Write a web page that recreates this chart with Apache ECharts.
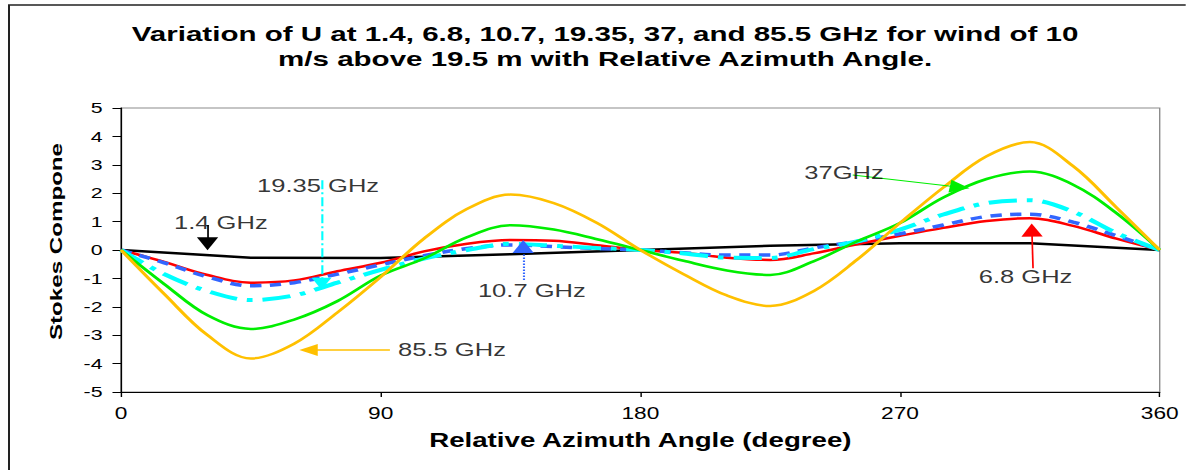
<!DOCTYPE html>
<html>
<head>
<meta charset="utf-8">
<script src="https://cdn.jsdelivr.net/npm/echarts@6/dist/echarts.min.js"></script>
<style>
  html, body { margin: 0; padding: 0; background: #fff; overflow: hidden; }
  #wrap { width: 1186px; height: 470px; overflow: hidden; position: relative; background: #fff; }
  #chart { position: absolute; left: 0; top: 0; height: 470px; transform-origin: 0 0; }
</style>
</head>
<body>
<div id="wrap"><div id="chart"></div></div>
<script>
// ---- data -------------------------------------------------------------
// relative azimuth angle (degree)
const angles = [0, 15, 30, 45, 60, 75, 90, 105, 120, 135, 150, 165, 180,
                195, 210, 225, 240, 255, 270, 285, 300, 315, 330, 345, 360];
const anglesCoarse = [0, 45, 90, 135, 180, 225, 270, 315, 360];

// Stokes component U for wind of 10 m/s above 19.5 m
const u1_4   = [0, -0.27, -0.28, -0.15, 0, 0.15, 0.24, 0.24, 0];
const u6_8   = [0, -0.42, -0.88, -1.15, -1.07, -0.75, -0.45, -0.05, 0.22, 0.35, 0.33, 0.17, 0,
                -0.1, -0.27, -0.35, -0.12, 0.2, 0.5, 0.78, 1.02, 1.12, 0.85, 0.4, 0];
const u10_7  = [0, -0.45, -0.95, -1.26, -1.15, -0.85, -0.52, -0.2, 0.05, 0.18, 0.12, 0.05, 0,
                -0.1, -0.18, -0.18, 0.07, 0.3, 0.57, 0.88, 1.18, 1.26, 0.98, 0.5, 0];
const u19_35 = [0, -0.85, -1.45, -1.76, -1.6, -1.15, -0.7, -0.3, 0.0, 0.22, 0.15, 0.07, 0,
                -0.12, -0.27, -0.28, 0.03, 0.3, 0.72, 1.25, 1.65, 1.75, 1.35, 0.6, 0];
const u37    = [0, -1.2, -2.3, -2.78, -2.45, -1.8, -0.9, -0.3, 0.45, 0.87, 0.72, 0.38, 0,
                -0.38, -0.72, -0.88, -0.4, 0.3, 0.95, 1.85, 2.5, 2.76, 2.3, 1.3, 0];
const u85_5  = [0, -1.55, -3.0, -3.82, -3.3, -2.2, -0.95, 0.4, 1.45, 1.95, 1.65, 0.95, 0,
                -0.85, -1.6, -1.97, -1.45, -0.35, 0.95, 2.2, 3.3, 3.8, 2.95, 1.5, 0];

const seriesNames = ['1.4 GHz', '6.8 GHz', '10.7 GHz', '19.35 GHz', '37GHz', '85.5 GHz'];
const xTicks = [0, 90, 180, 270, 360];
const yTicks = [-5, -4, -3, -2, -1, 0, 1, 2, 3, 4, 5];

const titleText = 'Variation of U at 1.4, 6.8, 10.7, 19.35, 37, and 85.5 GHz for wind of 10\nm/s above 19.5 m with Relative Azimuth Angle.';
const xName = 'Relative Azimuth Angle (degree)';
const yName = 'Stokes Compone';

// ---- layout / styles ---------------------------------------------------
// text in this chart is drawn wide; the whole chart is rendered narrow and stretched
const STRETCH = 1.42;
const PAGE_W = 1186;
const CHART_W = PAGE_W / STRETCH;
const sx = px => px / STRETCH;
const FONT = '"Liberation Sans", Arial, sans-serif';

const chartEl = document.getElementById('chart');
chartEl.style.width = CHART_W + 'px';
chartEl.style.transform = 'scaleX(' + STRETCH + ')';

const styles = [
  { color: '#000000', width: 2.5, type: 'solid', smooth: false },
  { color: '#FF0000', width: 2.5, type: 'solid', smooth: 0.35 },
  { color: '#3366FF', width: 3.5, type: [8, 6], smooth: 0.35 },
  { color: '#00FFFF', width: 4, type: [20, 7, 4, 7], smooth: 0.35 },
  { color: '#00EE00', width: 2.5, type: 'solid', smooth: 0.35 },
  { color: '#FFC000', width: 2.5, type: 'solid', smooth: 0.35 }
];
const seriesValues = [u1_4, u6_8, u10_7, u19_35, u37, u85_5];
const seriesX = [anglesCoarse, angles, angles, angles, angles, angles];

// annotation callouts, in axis units: label centre, arrow start, arrow head centre
const callouts = [
  { label: [34.6, 0.97],   from: [30.0, 0.88],   to: [30.0, 0.22],   line: 'solid',        lw: 1.2, head: [15, 13] },
  { label: [313.5, -0.94], from: [316.1, -0.64], to: [315.7, 0.70],  line: 'solid',        lw: 1.2, head: [15, 13] },
  { label: [142.4, -1.44], from: [139.4, -1.06], to: [139.4, 0.12],  line: 'dotted',       lw: 1.5, head: [15, 13] },
  { label: [68.3, 2.27],   from: [69.5, 2.46],   to: [69.5, -1.19],  line: [9, 3, 2, 3],   lw: 1.5, head: [14, 12] },
  { label: [250.6, 2.70],  from: [253.6, 2.64],  to: [290.7, 2.21],  line: 'solid',        lw: 1,   head: [13, 14] },
  { label: [114.7, -3.52], from: [93.2, -3.52],  to: [65.0, -3.52],  line: 'solid',        lw: 1.5, head: [12, 13] }
];

const series = seriesValues.map((vals, i) => {
  const st = styles[i];
  const c = callouts[i];
  return {
    name: seriesNames[i],
    type: 'line',
    data: vals.map((v, k) => [seriesX[i][k], v]),
    showSymbol: false,
    symbol: 'none',
    smooth: st.smooth,
    lineStyle: { color: st.color, width: st.width, type: st.type, cap: 'butt' },
    itemStyle: { color: st.color },
    z: 2 + i,
    silent: true,
    markLine: {
      silent: true,
      z: 20,
      animation: false,
      label: { show: false },
      emphasis: { disabled: true },
      lineStyle: { color: st.color, width: c.lw, type: c.line },
      data: [[
        { coord: c.from, symbol: 'none', symbolSize: 0 },
        { coord: c.to, symbol: 'triangle', symbolSize: c.head }
      ]]
    }
  };
});

series.push({
  name: 'labels',
  type: 'scatter',
  silent: true,
  z: 30,
  symbolSize: 0,
  data: callouts.map((c, i) => ({ name: seriesNames[i], value: c.label })),
  label: {
    show: true,
    position: 'inside',
    formatter: '{b}',
    color: '#000',
    fontFamily: FONT,
    fontSize: 18
  }
});

const chart = echarts.init(chartEl, null, { renderer: 'svg' });
chart.setOption({
  animation: false,
  backgroundColor: '#fff',
  title: {
    text: titleText,
    left: sx(598),
    top: 16,
    textAlign: 'center',
    textStyle: { fontFamily: FONT, fontSize: 20.8, fontWeight: 'bold', color: '#000', lineHeight: 25 }
  },
  grid: {
    left: sx(121), right: sx(1186 - 1160), top: 108, bottom: 78,
    show: true, borderColor: '#8c8c8c', borderWidth: 1,
    outerBoundsMode: 'none'
  },
  xAxis: {
    type: 'value', min: xTicks[0], max: xTicks[xTicks.length - 1], interval: 90,
    axisLine: { show: true, onZero: false, lineStyle: { color: '#000', width: 1 } },
    axisTick: { show: true, length: 5, lineStyle: { color: '#000' } },
    axisLabel: { color: '#000', fontFamily: FONT, fontSize: 16, margin: 13 },
    splitLine: { show: false },
    name: xName, nameLocation: 'middle', nameGap: 38,
    nameTextStyle: { color: '#000', fontFamily: FONT, fontSize: 19.5, fontWeight: 'bold' }
  },
  yAxis: {
    type: 'value', min: yTicks[0], max: yTicks[yTicks.length - 1], interval: 1,
    axisLine: { show: true, onZero: false, lineStyle: { color: '#000', width: 1 } },
    axisTick: { show: true, length: 6, lineStyle: { color: '#000' } },
    axisLabel: { color: '#000', fontFamily: FONT, fontSize: 15, margin: 13 },
    splitLine: { show: false }
  },
  graphic: [
    {
      type: 'rect', silent: true, z: -1,
      shape: { x: sx(9), y: 5, width: CHART_W, height: 500 },
      style: { fill: 'none', stroke: '#222', lineWidth: 1.4 }
    },
    {
      type: 'text', silent: true,
      x: sx(56), y: 340, rotation: Math.PI / 2,
      scaleX: STRETCH, scaleY: 1 / STRETCH,
      style: {
        text: yName, fill: '#000',
        font: 'bold 17px "Liberation Sans", Arial, sans-serif',
        align: 'left', verticalAlign: 'middle',
        textAlign: 'left', textVerticalAlign: 'middle'
      }
    }
  ],
  series: series
});
</script>
</body>
</html>
